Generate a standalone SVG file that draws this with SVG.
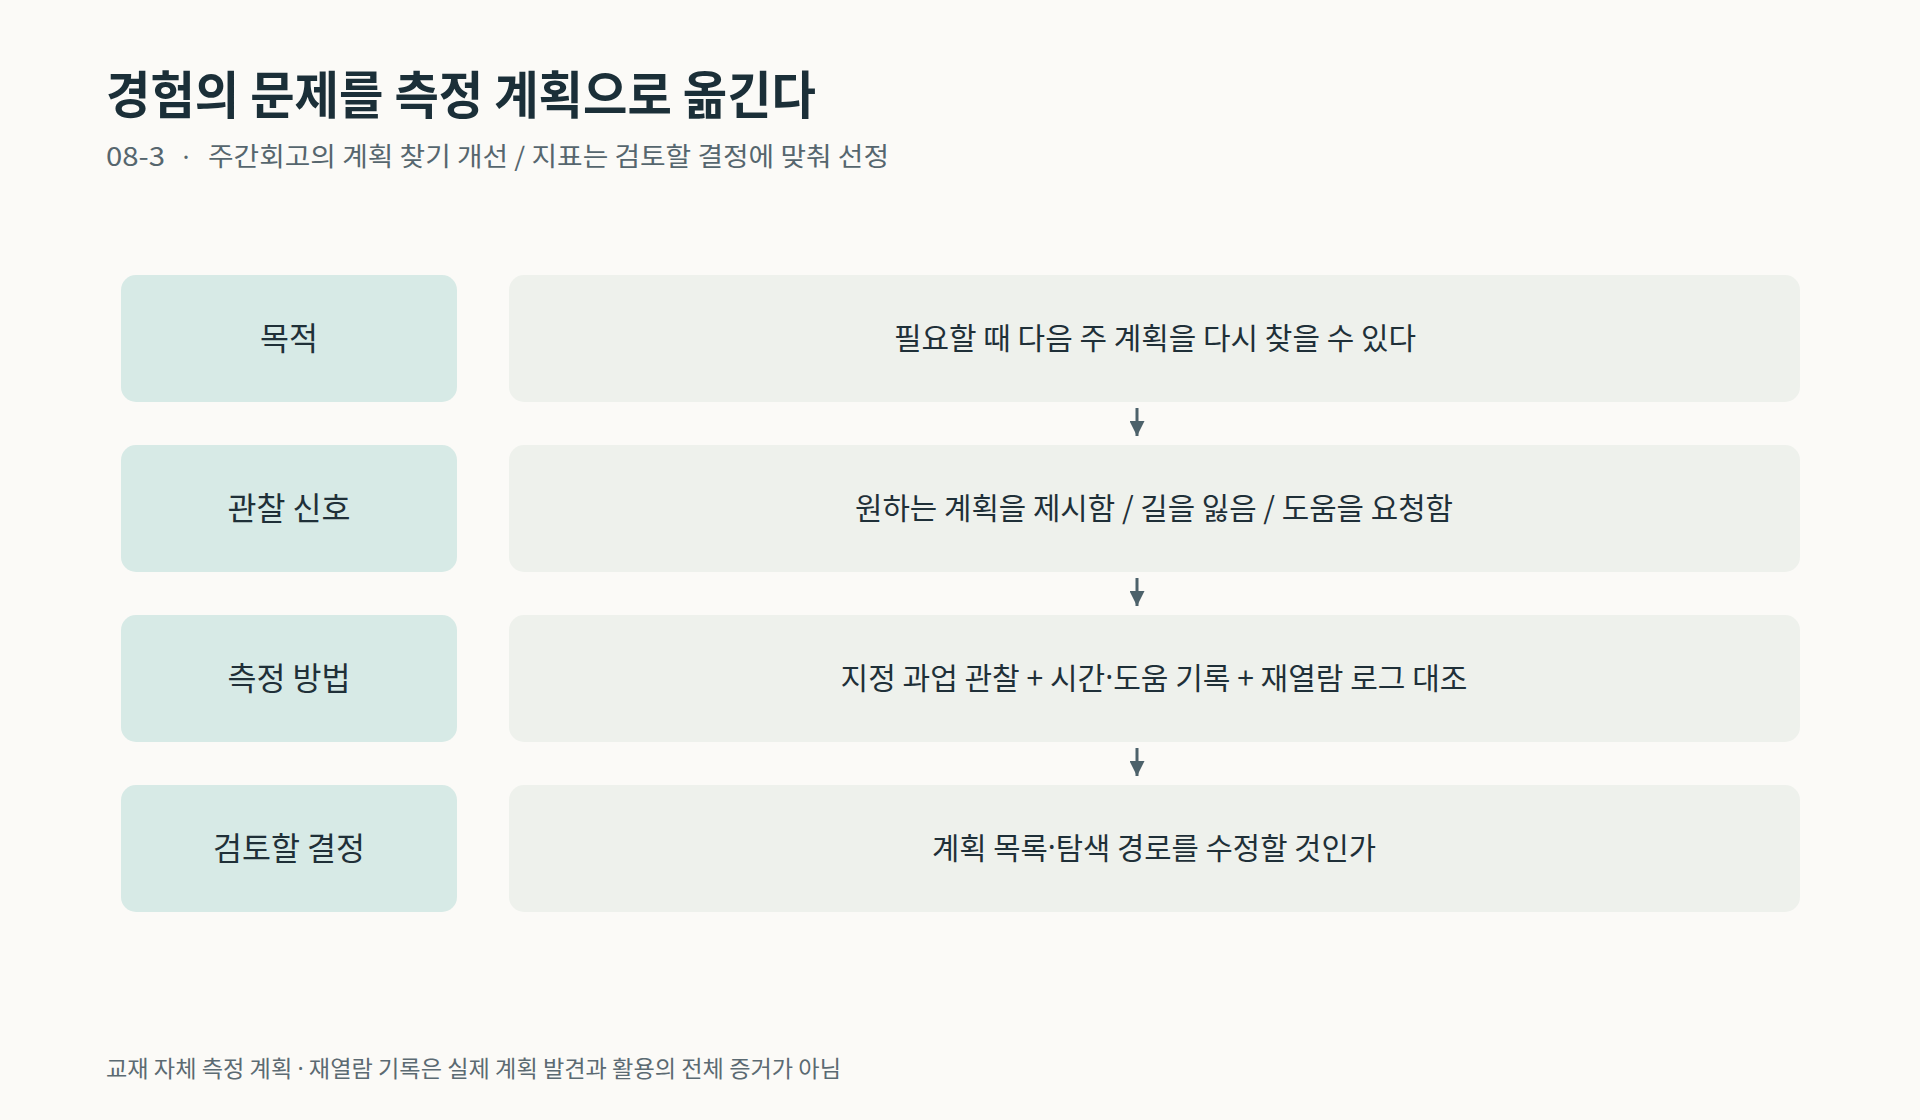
<svg xmlns="http://www.w3.org/2000/svg" width="1920" height="1120" viewBox="0 0 1920 1120">
<defs>
<style>
text{font-family:"Noto Sans CJK KR","Noto Sans",sans-serif}
.title{font-size:51px;font-weight:700;fill:#1b2f38}
.sub{font-size:26px;fill:#56666e}
.foot{font-size:23px;fill:#5b6a72}
.lab{fill:#d7eae6}
.val{fill:#eef1ec}
.lt{font-size:30px;fill:#1f3038;text-anchor:middle;dominant-baseline:central}
.ll{font-size:31.5px}
.dot{font-family:"Noto Sans",sans-serif}
.conn{stroke:#4d626b;stroke-width:3;fill:none}
</style>
<marker id="ah" viewBox="0 0 10 10" refX="10" refY="5" markerWidth="5" markerHeight="5" markerUnits="strokeWidth" orient="auto">
<path d="M0,0 L10,5 L0,10 z" fill="#4d626b"/>
</marker>
</defs>
<rect width="1920" height="1120" fill="#fbfaf7"/>
<text class="title" x="106" y="114" textLength="710" lengthAdjust="spacingAndGlyphs">경험의 문제를 측정 계획으로 옮긴다</text>
<text class="sub" x="106" y="166" textLength="59" lengthAdjust="spacingAndGlyphs">08-3</text>
<text class="sub dot" x="186" y="166" text-anchor="middle">·</text>
<text class="sub" x="208" y="166" textLength="681" lengthAdjust="spacingAndGlyphs">주간회고의 계획 찾기 개선 / 지표는 검토할 결정에 맞춰 선정</text>

<g id="row1">
<rect class="lab" x="121" y="275" width="336" height="127" rx="15"/>
<text class="lt ll" x="289" y="336">목적</text>
<rect class="val" x="509" y="275" width="1291" height="127" rx="15"/>
<text class="lt" x="1155" y="336" textLength="522" lengthAdjust="spacingAndGlyphs">필요할 때 다음 주 계획을 다시 찾을 수 있다</text>
</g>
<g id="row2">
<rect class="lab" x="121" y="445" width="336" height="127" rx="15"/>
<text class="lt ll" x="289" y="506">관찰 신호</text>
<rect class="val" x="509" y="445" width="1291" height="127" rx="15"/>
<text class="lt" x="1154" y="506" textLength="598" lengthAdjust="spacingAndGlyphs">원하는 계획을 제시함 / 길을 잃음 / 도움을 요청함</text>
</g>
<g id="row3">
<rect class="lab" x="121" y="615" width="336" height="127" rx="15"/>
<text class="lt ll" x="289" y="676">측정 방법</text>
<rect class="val" x="509" y="615" width="1291" height="127" rx="15"/>
<text class="lt" x="1154" y="676" textLength="627" lengthAdjust="spacingAndGlyphs">지정 과업 관찰 + 시간<tspan class="dot">·</tspan>도움 기록 + 재열람 로그 대조</text>
</g>
<g id="row4">
<rect class="lab" x="121" y="785" width="336" height="127" rx="15"/>
<text class="lt ll" x="289" y="846">검토할 결정</text>
<rect class="val" x="509" y="785" width="1291" height="127" rx="15"/>
<text class="lt" x="1154" y="846" textLength="444" lengthAdjust="spacingAndGlyphs">계획 목록<tspan class="dot">·</tspan>탐색 경로를 수정할 것인가</text>
</g>

<g id="connectors">
<line class="conn" x1="1137" y1="408" x2="1137" y2="436" marker-end="url(#ah)"/>
<line class="conn" x1="1137" y1="578" x2="1137" y2="606" marker-end="url(#ah)"/>
<line class="conn" x1="1137" y1="748" x2="1137" y2="776" marker-end="url(#ah)"/>
</g>

<text class="foot" x="106" y="1077" textLength="735" lengthAdjust="spacingAndGlyphs">교재 자체 측정 계획 <tspan class="dot">·</tspan> 재열람 기록은 실제 계획 발견과 활용의 전체 증거가 아님</text>
</svg>
